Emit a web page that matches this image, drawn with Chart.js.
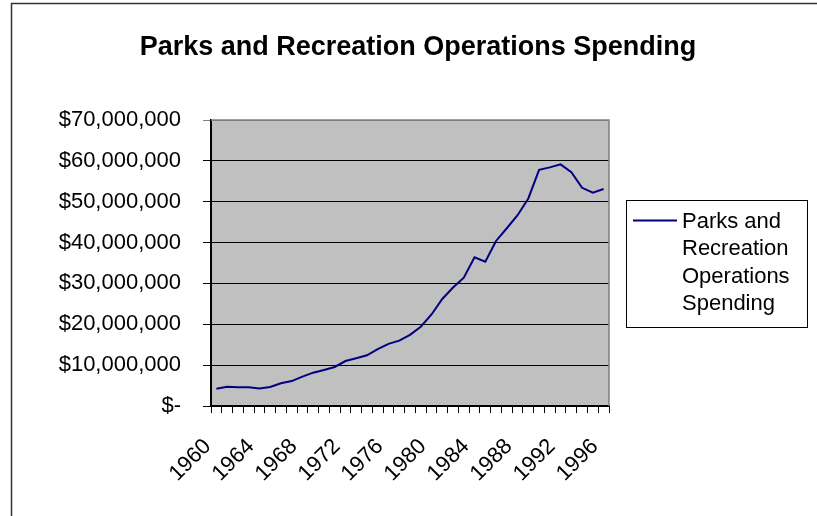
<!DOCTYPE html>
<html>
<head>
<meta charset="utf-8">
<title>Parks and Recreation Operations Spending</title>
<script src="https://cdn.jsdelivr.net/npm/chart.js@4.4.1/dist/chart.umd.min.js"></script>
<style>
  html, body { margin: 0; padding: 0; background: #fff; }
  #wrap { width: 817px; height: 516px; }
</style>
</head>
<body>
<div id="wrap"><canvas id="spendingChart" width="817" height="516"></canvas></div>
<script>
// chart data
const chartTitle = "Parks and Recreation Operations Spending";
const seriesName = "Parks and Recreation Operations Spending";

const years = [
  "1960", "1961", "1962", "1963", "1964", "1965", "1966", "1967", "1968", "1969",
  "1970", "1971", "1972", "1973", "1974", "1975", "1976", "1977", "1978", "1979",
  "1980", "1981", "1982", "1983", "1984", "1985", "1986", "1987", "1988", "1989",
  "1990", "1991", "1992", "1993", "1994", "1995", "1996"
];

const spending = [
  4240000, 4730000, 4570000, 4570000, 4300000, 4650000, 5550000, 6100000, 7200000, 8160000,
  8800000, 9550000, 11000000, 11670000, 12400000, 13900000, 15200000, 16000000, 17400000, 19400000,
  22400000, 26200000, 29000000, 31400000, 36400000, 35300000, 40400000, 43500000, 46700000, 50800000,
  57800000, 58400000, 59150000, 57200000, 53400000, 52200000, 53100000
];

const yTicks = [0, 10000000, 20000000, 30000000, 40000000, 50000000, 60000000, 70000000];
const xTickLabels = ["1960", "1964", "1968", "1972", "1976", "1980", "1984", "1988", "1992", "1996"];

const FONT = '"Liberation Sans", Arial, sans-serif';

function money(v) {
  if (v === 0) return "$-";
  return "$" + v.toLocaleString("en-US");
}

function wrapWords(ctx, text, maxWidth) {
  const lines = [];
  let line = "";
  text.split(" ").forEach(word => {
    const test = line ? line + " " + word : word;
    if (ctx.measureText(test).width > maxWidth && line) {
      lines.push(line);
      line = word;
    } else {
      line = test;
    }
  });
  if (line) lines.push(line);
  return lines;
}

const excelFrame = {
  id: "excelFrame",
  beforeDraw(chart) {
    const { ctx, chartArea: a, width, height } = chart;
    ctx.save();
    ctx.fillStyle = "#fff";
    ctx.fillRect(0, 0, width, height);
    ctx.fillStyle = "#c0c0c0";
    ctx.fillRect(a.left, a.top, a.right - a.left, a.bottom - a.top);
    ctx.restore();
  },
  afterDraw(chart) {
    const { ctx, chartArea: a, width, height } = chart;
    ctx.save();

    // plot area border (top / right)
    ctx.strokeStyle = "#808080";
    ctx.lineWidth = 1.5;
    ctx.beginPath();
    ctx.moveTo(a.left, a.top);
    ctx.lineTo(a.right, a.top);
    ctx.lineTo(a.right, a.bottom);
    ctx.stroke();

    // outer chart border, cropped at right and bottom
    ctx.strokeStyle = "#333";
    ctx.lineWidth = 1.5;
    ctx.beginPath();
    ctx.moveTo(11.5, height);
    ctx.lineTo(11.5, 3.5);
    ctx.lineTo(width, 3.5);
    ctx.stroke();

    // title
    ctx.fillStyle = "#000";
    ctx.font = "bold 27px " + FONT;
    ctx.textAlign = "center";
    ctx.textBaseline = "alphabetic";
    ctx.fillText(chartTitle, 418, 55);

    // legend
    const ds = chart.data.datasets[0];
    ctx.strokeStyle = "#000";
    ctx.lineWidth = 1;
    ctx.strokeRect(626.5, 200.5, 181, 127);
    ctx.strokeStyle = ds.borderColor;
    ctx.lineWidth = ds.borderWidth;
    ctx.beginPath();
    ctx.moveTo(633, 220.5);
    ctx.lineTo(677, 220.5);
    ctx.stroke();
    ctx.font = "22px " + FONT;
    ctx.textAlign = "left";
    ctx.fillStyle = "#000";
    wrapWords(ctx, ds.label, 120).forEach((line, i) => {
      ctx.fillText(line, 682, 228 + i * 27.3);
    });

    ctx.restore();
  }
};

document.addEventListener("DOMContentLoaded", () => {
  const ctx = document.getElementById("spendingChart");

  new Chart(ctx, {
    type: "line",
    data: {
      labels: years,
      datasets: [{
        label: seriesName,
        data: spending,
        borderColor: "#000080",
        borderWidth: 2,
        pointRadius: 0,
        tension: 0,
        fill: false
      }]
    },
    options: {
      responsive: false,
      animation: false,
      devicePixelRatio: 1,
      layout: { padding: { top: 120, right: 208, left: 0, bottom: 0 } },
      plugins: {
        legend: { display: false },
        title: { display: false },
        tooltip: { enabled: false }
      },
      scales: {
        x: {
          offset: true,
          grid: {
            offset: true,
            drawOnChartArea: false,
            drawTicks: true,
            tickLength: 7,
            color: "#000",
            lineWidth: 1
          },
          border: { display: true, color: "#000", width: 2 },
          ticks: {
            autoSkip: false,
            minRotation: 45,
            maxRotation: 45,
            padding: 12,
            color: "#000",
            font: { family: FONT, size: 22 },
            callback(value) {
              const lab = this.getLabelForValue(value);
              // trailing spaces pull the rotated label down-left like Excel does
              return xTickLabels.includes(lab) ? lab + "  " : "";
            }
          },
          afterFit(scale) { scale.height = 110; }
        },
        y: {
          min: yTicks[0],
          max: yTicks[yTicks.length - 1],
          grid: {
            drawTicks: true,
            tickLength: 8,
            color: c => (c.tick && c.tick.value === yTicks[yTicks.length - 1]) ? "#808080" : "#000",
            lineWidth: 1
          },
          border: { display: true, color: "#000", width: 2 },
          ticks: {
            stepSize: yTicks[1] - yTicks[0],
            padding: 22,
            color: "#000",
            font: { family: FONT, size: 22 },
            callback: v => money(v)
          },
          afterFit(scale) { scale.width = 211; }
        }
      }
    },
    plugins: [excelFrame]
  });
});
</script>
</body>
</html>
